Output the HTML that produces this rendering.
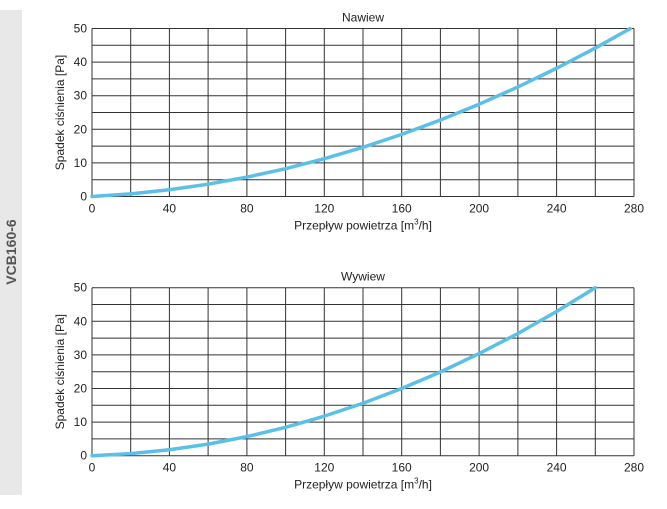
<!DOCTYPE html>
<html><head><style>body{margin:0;background:#fff}svg{display:block}</style></head><body>
<svg width="667" height="509" xmlns="http://www.w3.org/2000/svg" font-family="Liberation Sans, sans-serif" font-size="12" fill="#222">
<rect x="0" y="10" width="22" height="485" fill="#e8e8e8"/>
<text transform="translate(16,252) rotate(-90)" text-anchor="middle" font-size="14" font-weight="bold" fill="#555">VCB160-6</text>

<g id="top">
<path stroke="#333" stroke-width="1" fill="none" d="M92,28.5V196.5M130.7,28.5V196.5M169.4,28.5V196.5M208.1,28.5V196.5M246.9,28.5V196.5M285.6,28.5V196.5M324.3,28.5V196.5M363,28.5V196.5M401.7,28.5V196.5M440.4,28.5V196.5M479.1,28.5V196.5M517.9,28.5V196.5M556.6,28.5V196.5M595.3,28.5V196.5M634,28.5V196.5
M92,28.5H634M92,45.3H634M92,62.1H634M92,78.9H634M92,95.7H634M92,112.5H634M92,129.3H634M92,146.1H634M92,162.9H634M92,179.7H634M92,196.5H634"/>
<path fill="none" stroke="#5bc0e8" stroke-width="3.5" stroke-linecap="round" stroke-linejoin="round" d="M92,196.5L130.7,193.85L169.4,189.75L208.1,184.17L246.9,177.15L285.6,168.65L324.3,158.7L363,147.3L401.7,134.4L440.4,120L479.1,104.2L517.9,86.96L556.6,68.25L595.3,48.06L630.1,28.6"/>
<g text-anchor="end"><text x="87" y="200.5">0</text><text x="87" y="166.9">10</text><text x="87" y="133.3">20</text><text x="87" y="99.7">30</text><text x="87" y="66.1">40</text><text x="87" y="32.5">50</text></g>
<g text-anchor="middle"><text x="92" y="212.5">0</text><text x="169.4" y="212.5">40</text><text x="246.9" y="212.5">80</text><text x="324.3" y="212.5">120</text><text x="401.7" y="212.5">160</text><text x="479.1" y="212.5">200</text><text x="556.6" y="212.5">240</text><text x="634" y="212.5">280</text>
<text x="363" y="21.5">Nawiew</text>
<text x="363" y="229.5">Przepływ powietrza [m<tspan font-size="8" dy="-5">3</tspan><tspan dy="5">/h]</tspan></text>
<text transform="translate(64,112.5) rotate(-90)">Spadek ciśnienia [Pa]</text></g>
</g>

<g id="bot">
<path stroke="#333" stroke-width="1" fill="none" d="M92,287.7V455.7M130.7,287.7V455.7M169.4,287.7V455.7M208.1,287.7V455.7M246.9,287.7V455.7M285.6,287.7V455.7M324.3,287.7V455.7M363,287.7V455.7M401.7,287.7V455.7M440.4,287.7V455.7M479.1,287.7V455.7M517.9,287.7V455.7M556.6,287.7V455.7M595.3,287.7V455.7M634,287.7V455.7
M92,287.7H634M92,304.5H634M92,321.3H634M92,338.1H634M92,354.9H634M92,371.7H634M92,388.5H634M92,405.3H634M92,422.1H634M92,438.9H634M92,455.7H634"/>
<path fill="none" stroke="#5bc0e8" stroke-width="3.5" stroke-linecap="round" stroke-linejoin="round" d="M92,455.7L130.7,453.6L169.4,449.75L208.1,444.1L246.9,436.6L285.6,427.3L324.3,416.15L363,403.25L401.7,388.5L440.4,372L479.1,353.6L517.9,333.5L556.6,311.5L595.3,287.7"/>
<g text-anchor="end"><text x="87" y="459.7">0</text><text x="87" y="426.1">10</text><text x="87" y="392.5">20</text><text x="87" y="358.9">30</text><text x="87" y="325.3">40</text><text x="87" y="291.7">50</text></g>
<g text-anchor="middle"><text x="92" y="471.7">0</text><text x="169.4" y="471.7">40</text><text x="246.9" y="471.7">80</text><text x="324.3" y="471.7">120</text><text x="401.7" y="471.7">160</text><text x="479.1" y="471.7">200</text><text x="556.6" y="471.7">240</text><text x="634" y="471.7">280</text>
<text x="363" y="280.7">Wywiew</text>
<text x="363" y="488.7">Przepływ powietrza [m<tspan font-size="8" dy="-5">3</tspan><tspan dy="5">/h]</tspan></text>
<text transform="translate(64,371.7) rotate(-90)">Spadek ciśnienia [Pa]</text></g>
</g>
</svg>
</body></html>
